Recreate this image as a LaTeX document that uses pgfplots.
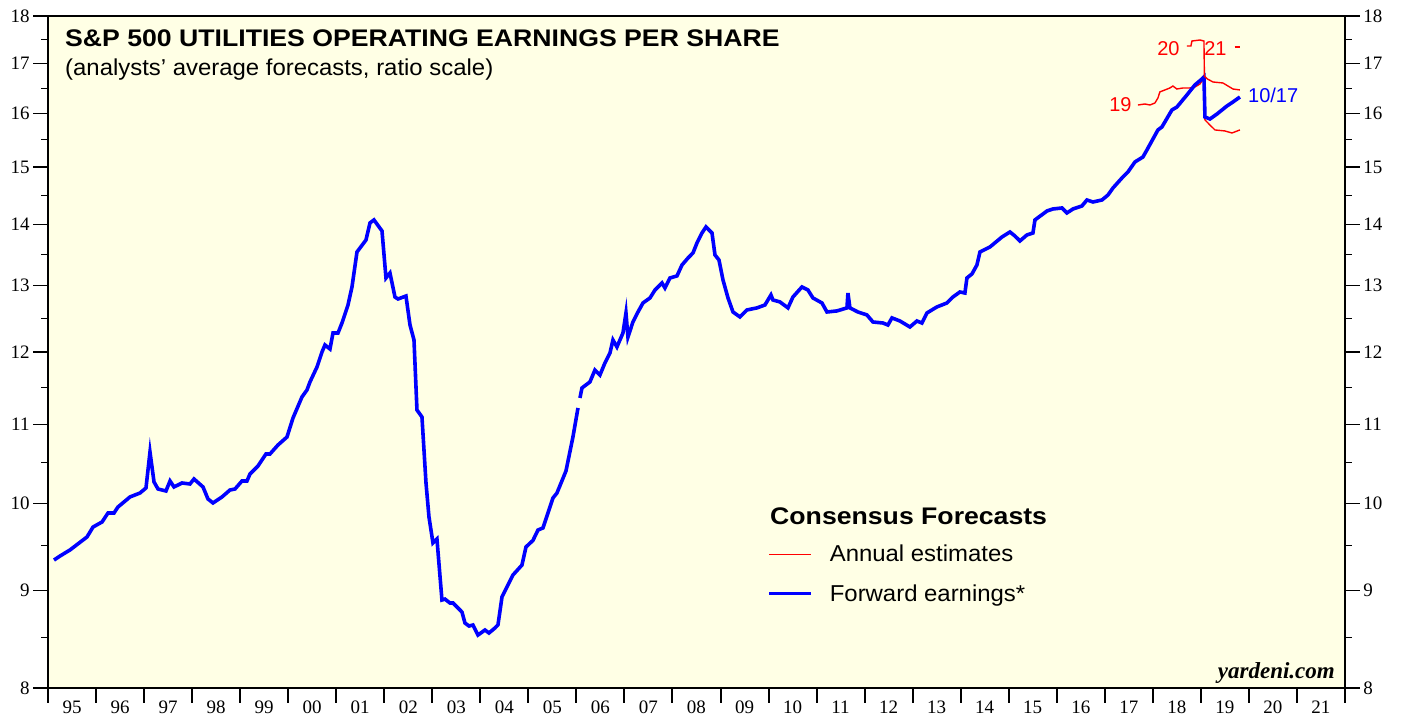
\documentclass[border=0pt]{standalone}
\usepackage{pgfplots}
\pgfplotsset{compat=1.18}
\usepackage{fontspec}
\setmainfont{Liberation Sans}
\newfontfamily\seriffont{Liberation Serif}
\newfontfamily\titlefont{Liberation Sans}[FakeStretch=1.11]
\newfontfamily\subfont{Liberation Sans}[FakeStretch=1.04]
\definecolor{bgyellow}{RGB}{255,255,229}
\begin{document}
\begin{tikzpicture}
\begin{axis}[
  width=1297bp, height=672bp, scale only axis,
  at={(48bp,29bp)}, anchor=south west,
  xmin=1995, xmax=2022, ymin=8, ymax=18, ymode=log,
  ytick={8,9,10,11,12,13,14,15,16,17,18},
  yticklabels={8,9,10,11,12,13,14,15,16,17,18},
  minor ytick={8.5,9.5,10.5,11.5,12.5,13.5,14.5,15.5,16.5,17.5},
  tick align=outside, major tick length=15bp, minor tick length=7bp,
  tick style={black, line width=1.1bp},
  xtick style={black, line width=2bp},
  tick label style={font=\seriffont\fontsize{19bp}{19bp}\selectfont},
  axis line style={line width=2.5bp},
  axis background/.style={fill=bgyellow},
  ytick pos=left, xtick pos=bottom,
  xtick={1995,1996,1997,1998,1999,2000,2001,2002,2003,2004,2005,2006,2007,2008,2009,2010,2011,2012,2013,2014,2015,2016,2017,2018,2019,2020,2021,2022},
  xticklabels={95,96,97,98,99,00,01,02,03,04,05,06,07,08,09,10,11,12,13,14,15,16,17,18,19,20,21,{}},
  xticklabel style={xshift=24bp, yshift=5bp},
  legend style={at={(rel axis cs:0.5544,0.2157)}, anchor=north west, draw=none, fill=none,
    font=\subfont\fontsize{23bp}{23bp}\selectfont, row sep=17bp, inner sep=0pt,
    /tikz/every odd column/.append style={column sep=15bp}},
  legend cell align=left,
  legend image code/.code={\draw[#1] (0bp,0bp) -- (42bp,0bp);},
]
% Annual estimates 2019
\addplot[red, line width=1.4bp] coordinates {
(2017.690,16.167)(2017.835,16.186)(2017.939,16.167)(2018.043,16.206)(2018.106,16.304)
(2018.147,16.423)(2018.251,16.463)(2018.355,16.502)(2018.418,16.542)(2018.501,16.482)
(2018.626,16.502)(2018.772,16.502)(2018.876,16.522)(2018.980,16.582)(2019.064,16.702)
(2019.085,15.877)(2019.189,15.781)(2019.293,15.687)(2019.501,15.668)(2019.647,15.630)
(2019.813,15.687)};
\addlegendentry{Annual estimates}
% Forward earnings
\addplot[blue, line width=3.6bp] coordinates {
(1995.125,9.336)(1995.250,9.381)(1995.458,9.450)(1995.812,9.599)(1995.937,9.715)
(1996.124,9.774)(1996.249,9.881)(1996.374,9.881)(1996.457,9.953)(1996.707,10.074)
(1996.915,10.122)(1997.040,10.184)(1997.123,10.636)(1997.207,10.258)(1997.290,10.171)
(1997.456,10.147)(1997.540,10.270)(1997.623,10.196)(1997.790,10.245)(1997.956,10.233)
(1998.039,10.295)(1998.227,10.196)(1998.331,10.049)(1998.435,10.001)(1998.622,10.074)
(1998.789,10.159)(1998.893,10.171)(1999.038,10.270)(1999.142,10.270)(1999.205,10.357)
(1999.371,10.457)(1999.538,10.610)(1999.621,10.610)(1999.788,10.726)(1999.975,10.830)
(2000.100,11.081)(2000.287,11.366)(2000.391,11.462)(2000.454,11.574)(2000.600,11.785)
(2000.704,12.000)(2000.766,12.102)(2000.870,12.043)(2000.933,12.278)(2001.037,12.278)
(2001.120,12.427)(2001.245,12.700)(2001.328,12.979)(2001.432,13.539)(2001.620,13.737)
(2001.703,14.022)(2001.786,14.073)(2001.953,13.887)(2002.036,13.121)(2002.119,13.200)
(2002.223,12.823)(2002.286,12.792)(2002.452,12.838)(2002.536,12.397)(2002.619,12.175)
(2002.681,11.189)(2002.785,11.095)(2002.869,10.245)(2002.931,9.834)(2003.014,9.530)
(2003.097,9.576)(2003.201,8.896)(2003.264,8.906)(2003.368,8.864)(2003.431,8.864)
(2003.618,8.768)(2003.680,8.653)(2003.764,8.621)(2003.847,8.632)(2003.951,8.528)
(2004.097,8.580)(2004.180,8.549)(2004.305,8.601)(2004.367,8.632)(2004.451,8.929)
(2004.680,9.169)(2004.867,9.280)(2004.950,9.484)(2005.096,9.560)(2005.200,9.680)
(2005.304,9.704)(2005.512,10.061)(2005.595,10.122)(2005.783,10.395)(2005.928,10.830)
(2006.033,11.216)};
\addlegendentry{Forward earnings*}
\addplot[blue, line width=3.6bp, forget plot] coordinates {
(2006.074,11.352)(2006.116,11.490)(2006.282,11.574)(2006.386,11.742)(2006.490,11.671)
(2006.594,11.842)(2006.699,11.986)(2006.761,12.175)(2006.844,12.073)(2006.969,12.278)
(2007.032,12.578)(2007.073,12.219)(2007.177,12.442)(2007.282,12.593)(2007.386,12.731)
(2007.532,12.808)(2007.636,12.932)(2007.782,13.042)(2007.844,12.963)(2007.948,13.121)
(2008.094,13.153)(2008.198,13.328)(2008.323,13.441)(2008.427,13.523)(2008.510,13.687)
(2008.614,13.853)(2008.698,13.954)(2008.823,13.853)(2008.885,13.490)(2008.968,13.409)
(2009.052,13.089)(2009.156,12.808)(2009.260,12.593)(2009.405,12.518)(2009.551,12.624)
(2009.759,12.655)(2009.925,12.700)(2010.050,12.855)(2010.092,12.777)(2010.237,12.747)
(2010.404,12.655)(2010.508,12.823)(2010.695,12.979)(2010.820,12.932)(2010.924,12.808)
(2011.112,12.731)(2011.216,12.593)(2011.424,12.609)(2011.632,12.655)(2011.653,12.885)
(2011.694,12.655)(2011.861,12.593)(2012.048,12.548)(2012.173,12.442)(2012.381,12.427)
(2012.485,12.397)(2012.569,12.503)(2012.735,12.457)(2012.943,12.367)(2013.089,12.457)
(2013.193,12.427)(2013.297,12.578)(2013.505,12.670)(2013.714,12.731)(2013.839,12.823)
(2013.984,12.901)(2014.088,12.885)(2014.130,13.121)(2014.234,13.184)(2014.338,13.328)
(2014.401,13.539)(2014.609,13.621)(2014.859,13.786)(2015.025,13.870)(2015.129,13.803)
(2015.233,13.720)(2015.379,13.820)(2015.504,13.853)(2015.546,14.073)(2015.796,14.226)
(2015.920,14.260)(2016.108,14.277)(2016.212,14.192)(2016.337,14.260)(2016.524,14.312)
(2016.628,14.416)(2016.753,14.381)(2016.941,14.416)(2017.066,14.503)(2017.170,14.626)
(2017.357,14.804)(2017.482,14.912)(2017.628,15.093)(2017.794,15.184)(2017.877,15.313)
(2018.106,15.687)(2018.189,15.743)(2018.397,16.070)(2018.501,16.128)(2018.709,16.363)
(2018.876,16.562)(2019.022,16.682)(2019.064,16.723)(2019.085,15.934)(2019.189,15.896)
(2019.335,15.992)(2019.543,16.148)(2019.668,16.226)(2019.813,16.324)};
% Annual estimates 2020
\addplot[red, line width=1.4bp, forget plot] coordinates {
(2018.709,17.360)(2018.793,17.360)(2018.814,17.465)(2018.980,17.486)(2019.064,17.465)
(2019.074,16.740)(2019.140,16.680)(2019.251,16.622)(2019.459,16.602)(2019.564,16.542)
(2019.668,16.482)(2019.813,16.463)};
% Annual estimates 2021
\addplot[red, line width=1.4bp, forget plot] coordinates {
(2019.700,17.340)(2019.813,17.340)};

\node[anchor=west, font=\titlefont\bfseries\fontsize{24bp}{24bp}\selectfont, inner sep=0pt] at (rel axis cs:0.0131,0.9673) {S\&P 500 UTILITIES OPERATING EARNINGS PER SHARE};
\node[anchor=west, font=\subfont\fontsize{23bp}{23bp}\selectfont, inner sep=0pt] at (rel axis cs:0.0131,0.921) {(analysts’ average forecasts, ratio scale)};
\node[anchor=west, font=\titlefont\bfseries\fontsize{24bp}{24bp}\selectfont, inner sep=0pt] at (rel axis cs:0.5567,0.256) {Consensus Forecasts};
\node[anchor=east, font=\seriffont\bfseries\itshape\fontsize{23bp}{23bp}\selectfont, inner sep=0pt] at (rel axis cs:0.9923,0.0223) {yardeni.com};
\node[red, anchor=east, font=\fontsize{20bp}{20bp}\selectfont, inner sep=0pt] at (axis cs:2017.56,16.18) {19};
\node[red, anchor=east, font=\fontsize{20bp}{20bp}\selectfont, inner sep=0pt] at (axis cs:2018.56,17.31) {20};
\node[red, anchor=east, font=\fontsize{20bp}{20bp}\selectfont, inner sep=0pt] at (axis cs:2019.54,17.31) {21};
\node[blue, anchor=west, font=\fontsize{20bp}{20bp}\selectfont, inner sep=0pt] at (axis cs:2019.98,16.35) {10/17};
\end{axis}
\begin{axis}[
  width=1297bp, height=672bp, scale only axis,
  at={(48bp,29bp)}, anchor=south west,
  xmin=1995, xmax=2022, ymin=8, ymax=18, ymode=log,
  ytick={8,9,10,11,12,13,14,15,16,17,18},
  yticklabels={8,9,10,11,12,13,14,15,16,17,18},
  minor ytick={8.5,9.5,10.5,11.5,12.5,13.5,14.5,15.5,16.5,17.5},
  tick align=outside, major tick length=15bp, minor tick length=7bp,
  tick style={black, line width=1.1bp},
  tick label style={font=\seriffont\fontsize{19bp}{19bp}\selectfont},
  axis line style={line width=2.5bp},
  axis y line*=right, axis x line=none, yticklabel pos=right]
\end{axis}
\pgfresetboundingbox
\path[use as bounding box] (0,0) rectangle (1405bp,717bp);
\end{tikzpicture}
\end{document}
